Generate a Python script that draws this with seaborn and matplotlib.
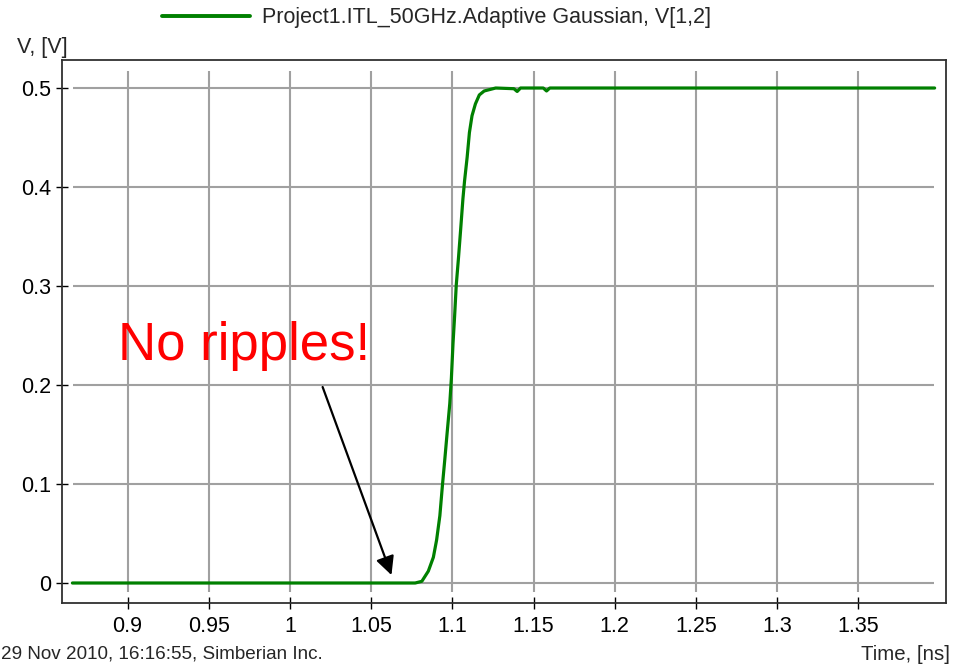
import matplotlib
matplotlib.use("Agg")
import matplotlib.pyplot as plt
import seaborn as sns
import pandas as pd

# ---- data ----
time_ns = [0.866, 1.0771, 1.0812, 1.0852, 1.0883, 1.0903, 1.0923, 1.0939, 1.0953,
           1.0968, 1.0984, 1.0994, 1.1004, 1.1014, 1.1024, 1.1038, 1.1051, 1.1065,
           1.1075, 1.1091, 1.1105, 1.1121, 1.1142, 1.1166, 1.1196, 1.1267, 1.1379,
           1.1399, 1.1420, 1.1560, 1.1580, 1.1600, 1.397]
voltage_v = [0.0, 0.0, 0.0017, 0.012, 0.026, 0.0435, 0.068, 0.099, 0.124,
             0.152, 0.181, 0.207, 0.242, 0.270, 0.301, 0.329, 0.357, 0.388,
             0.406, 0.430, 0.455, 0.472, 0.484, 0.493, 0.497, 0.500, 0.4993,
             0.4965, 0.500, 0.500, 0.497, 0.500, 0.500]
series_name = "Project1.ITL_50GHz.Adaptive Gaussian, V[1,2]"
x_ticks = [0.9, 0.95, 1.0, 1.05, 1.1, 1.15, 1.2, 1.25, 1.3, 1.35]
x_tick_labels = ["0.9", "0.95", "1", "1.05", "1.1", "1.15", "1.2", "1.25", "1.3", "1.35"]
y_ticks = [0, 0.1, 0.2, 0.3, 0.4, 0.5]
y_tick_labels = ["0", "0.1", "0.2", "0.3", "0.4", "0.5"]

df = pd.DataFrame({"Time": time_ns, "V": voltage_v, "series": series_name})

sns.set_theme(style="white")
plt.rcParams["font.family"] = ["Liberation Sans", "DejaVu Sans"]

fig = plt.figure(figsize=(9.63, 6.64), dpi=100)
ax = fig.add_axes([62 / 963, 1 - 603 / 664, (946 - 62) / 963, (603 - 60) / 664])

# inset grid lines (as in the reference), drawn at the tick positions
ax.hlines(y_ticks, 0.0125, 0.986, transform=ax.get_yaxis_transform(),
          color="#a0a0a0", linewidth=1.5, zorder=0)
ax.vlines(x_ticks, 0.02, 0.98, transform=ax.get_xaxis_transform(),
          color="#a0a0a0", linewidth=1.5, zorder=0)

sns.lineplot(data=df, x="Time", y="V", hue="series", palette=["#008000"],
             linewidth=2.3, ax=ax, legend=False, zorder=3)

ax.set_xlim(0.8596, 1.404)
ax.set_ylim(-0.0202, 0.5283)
ax.set_xticks(x_ticks)
ax.set_xticklabels(x_tick_labels)
ax.set_yticks(y_ticks)
ax.set_yticklabels(y_tick_labels)
ax.grid(False)
ax.tick_params(direction="inout", length=9, width=1, color="black",
               labelsize=15.5, labelcolor="black", bottom=True, left=True)
ax.tick_params(axis="x", pad=5)
ax.tick_params(axis="y", pad=3)
for sp in ax.spines.values():
    sp.set_color("#303030")
    sp.set_linewidth(1.3)
ax.set_xlabel("")
ax.set_ylabel("")

# legend above the plot
handle = plt.Line2D([], [], color="#008000", linewidth=2.8)
fig.legend([handle], [series_name], loc="center", bbox_to_anchor=(436.5 / 963, 1 - 18 / 664),
           frameon=False, fontsize=15.5, handlelength=4.05, handletextpad=0.55,
           borderpad=0, borderaxespad=0)

# axis texts
fig.text(17 / 963, 1 - 47 / 664, "V, [V]", fontsize=15.5, ha="left", va="center")
fig.text(1 / 963, 1 - 654 / 664, "29 Nov 2010, 16:16:55, Simberian Inc.", fontsize=13.6,
         ha="left", va="center")
fig.text(950 / 963, 1 - 654 / 664, "Time, [ns]", fontsize=14.7, ha="right", va="center")

# annotation
ax.text(0.8938, 0.225, "No ripples!", color="#ff0000", fontsize=38,
        ha="left", va="baseline")
ax.annotate("", xy=(1.0625, 0.008), xytext=(1.0201, 0.198),
            arrowprops=dict(arrowstyle="-|>", color="black", lw=1.6, mutation_scale=28,
                            shrinkA=0, shrinkB=0))

fig.savefig("out.png", dpi=100)
